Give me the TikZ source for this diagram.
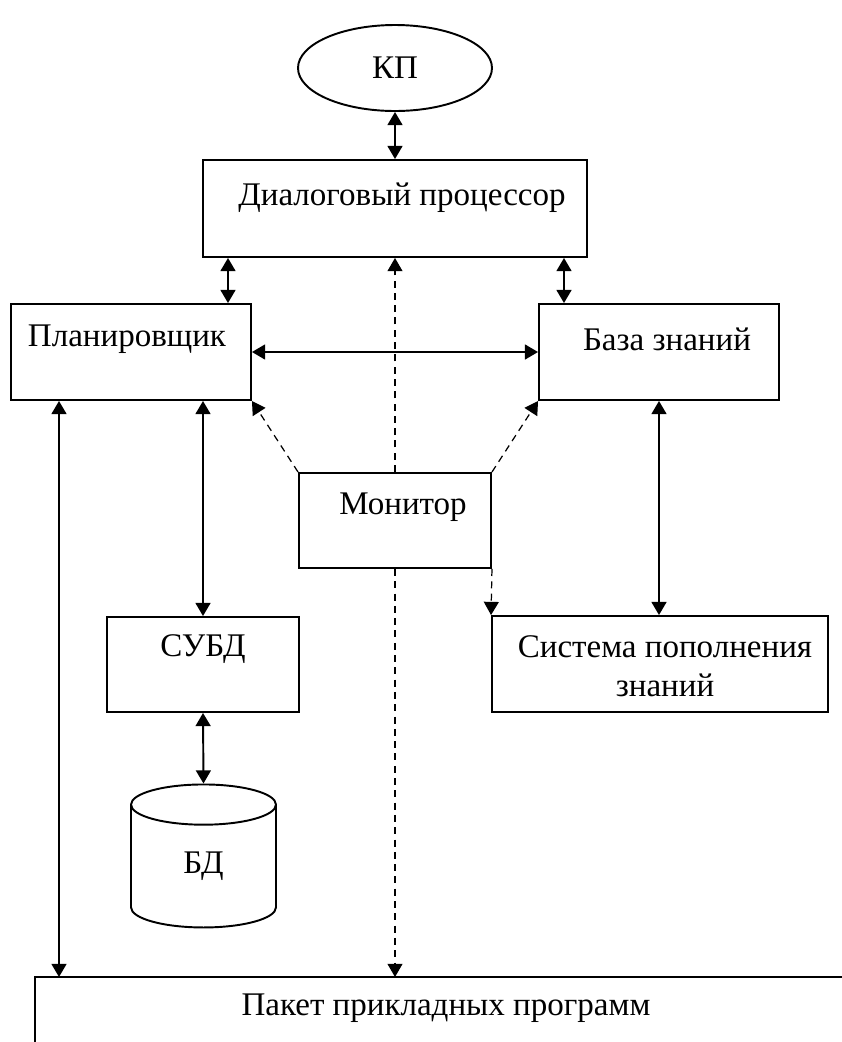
\documentclass[tikz,border=0pt]{standalone}
\usepackage{fontspec}
\setmainfont{Liberation Serif}
\usepackage{tikz}
\usetikzlibrary{arrows.meta, shapes.geometric, calc}
\newcommand{\PX}{0.02}
\tikzset{
	blk/.style={draw, line width=1.1pt, inner sep=0pt},
	lbl/.style={inner sep=0pt, font=\fontsize{18.8}{22}\selectfont},
	lnk/.style={line width=1.1pt, {Triangle[length=7.5pt,width=8.5pt]}-{Triangle[length=7.5pt,width=8.5pt]}},
	ctl/.style={line width=0.7pt, dash pattern=on 4pt off 3pt, -{Triangle[length=7.5pt,width=8.5pt]}},
}

\begin{document}
\begin{tikzpicture}[x=\PX cm, y=-\PX cm]
	\useasboundingbox (0,0) rectangle (842,1042);
	%	\draw[thin, gray] (0,0) rectangle (842,1042);

	% blocks
	\node[blk, ellipse, lbl, minimum width=194*\PX cm, minimum height=86*\PX cm] (kp) at (395,68) {КП};
	\node[blk, minimum width=384*\PX cm, minimum height=97*\PX cm] (dlg) at (395,208.5) {};
	\node[blk, minimum width=240*\PX cm, minimum height=96*\PX cm] (plan) at (131,352) {};
	\node[blk, minimum width=240*\PX cm, minimum height=96*\PX cm] (kb) at (659,352) {};
	\node[blk, minimum width=192*\PX cm, minimum height=95*\PX cm] (mon) at (395,520.5) {};
	\node[blk, minimum width=192*\PX cm, minimum height=95*\PX cm] (dbms) at (203,664.5) {};
	\node[blk, minimum width=336*\PX cm, minimum height=96*\PX cm] (kas) at (660,664) {};
	\node[blk, cylinder, shape border rotate=90, aspect=1, lbl,
		minimum width=145*\PX cm, minimum height=143*\PX cm] (db) at (203.5,866.5) {\raisebox{-0.1cm}{БД}};
	\coordinate (ppp) at (35,977);
	\draw[line width=1.1pt] (842,977) -- (ppp) -- (35,1042);

	% texts
	\node[lbl] (dlgtxt) at (402,198) {Диалоговый процессор};
	\node[lbl] (plantxt) at (127,339) {Планировщик};
	\node[lbl] (kbtxt) at (667,339) {База знаний};
	\node[lbl] (montxt) at (403,507) {Монитор};
	\node[lbl] (dbmstxt) at (203,649) {СУБД};
	\node[lbl, align=center] (kastxt) at (665,666) {Система пополнения\\знаний};
	\node[lbl] (ppptxt) at (446,1008) {Пакет прикладных программ};

	% columns for the vertical links
	\coordinate (cL) at (59,0);
	\coordinate (cA) at (228,0);
	\coordinate (cB) at (564,0);

	% links
	\draw[lnk] (kp.south) -- (dlg.north);
	\draw[lnk] (dlg.south -| cA) -- (plan.north -| cA);
	\draw[lnk] (dlg.south -| cB) -- (kb.north -| cB);
	\draw[lnk] (plan.east) -- (kb.west);
	\draw[lnk] (plan.south -| cL) -- (ppp -| cL);
	\draw[lnk] (plan.south -| dbms.north) -- (dbms.north);
	\draw[lnk] (dbms.south) -- (db.north);
	\draw[lnk] (kb.south) -- (kb.south |- kas.north);

	% monitor control
	\draw[ctl] (mon.north) -- (dlg.south);
	\draw[ctl] (mon.north west) -- (plan.south east);
	\draw[ctl] (mon.north east) -- (kb.south west);
	\draw[ctl] (mon.south) -- (ppp -| mon.south);
	\draw[ctl] (mon.south east) -- (kas.north west);
\end{tikzpicture}
\end{document}
